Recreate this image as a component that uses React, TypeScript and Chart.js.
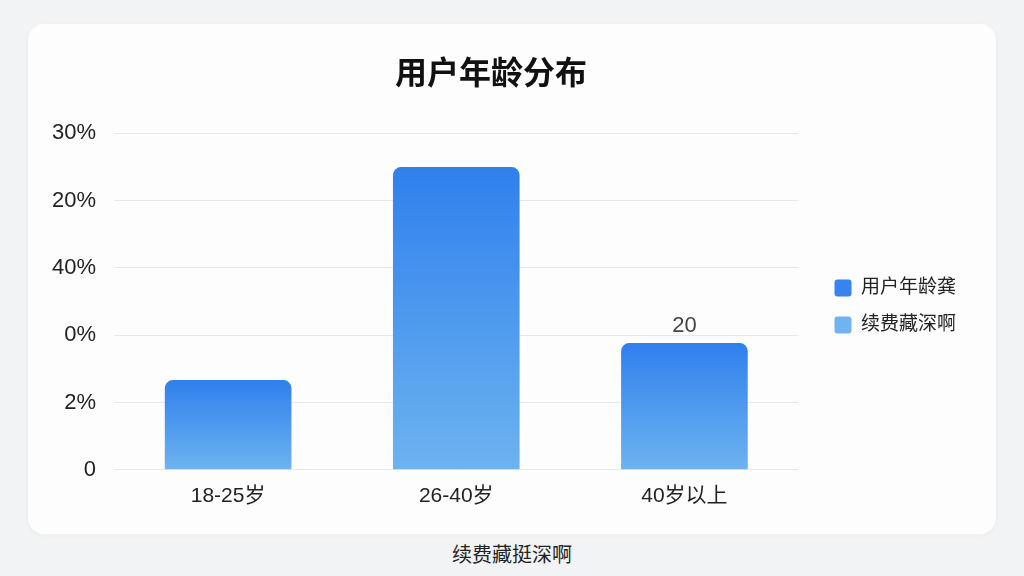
import React, { useEffect, useRef } from 'react';
import { Chart, registerables, ChartConfiguration, Plugin } from 'chart.js';

Chart.register(...registerables);

const FONT = '"Liberation Sans", "Noto Sans CJK SC", sans-serif';

const chartTitle = '用户年龄分布';
const caption = '续费藏挺深啊';
const categories = ['18-25岁', '26-40岁', '40岁以上'];
const shareValues = [8, 27, 11.3];
const valueLabels = ['', '', '20'];
const yTickLabels = ['0', '2%', '0%', '40%', '20%', '30%'];
const legendNames = ['用户年龄龚', '续费藏深啊'];
const legendColors = ['#3784ee', '#6fb3f1'];

// text drawn above the bars
const barLabelPlugin: Plugin<'bar'> = {
  id: 'barLabels',
  afterDatasetsDraw(chart) {
    const ctx = chart.ctx;
    const meta = chart.getDatasetMeta(0);
    ctx.save();
    ctx.fillStyle = '#444';
    ctx.font = `22px ${FONT}`;
    ctx.textAlign = 'center';
    ctx.textBaseline = 'bottom';
    meta.data.forEach((bar, i) => {
      const text = valueLabels[i];
      if (text) ctx.fillText(text, bar.x, bar.y - 6);
    });
    ctx.restore();
  },
};

// nudge the legend away from the plot
const legendShift: Plugin<'bar'> = {
  id: 'legendShift',
  afterLayout(chart) {
    const lg = chart.legend as any;
    if (!lg) return;
    lg.left += 18;
    lg.right += 18;
    lg.top += 21;
    lg.bottom += 21;
  },
};

const App: React.FC = () => {
  const canvasRef = useRef<HTMLCanvasElement>(null);
  const chartRef = useRef<Chart<'bar'> | null>(null);

  useEffect(() => {
    const ctx = canvasRef.current?.getContext('2d');
    if (!ctx) return;
    if (chartRef.current) chartRef.current.destroy();

    const config: ChartConfiguration<'bar'> = {
      type: 'bar',
      data: {
        labels: categories,
        datasets: [
          {
            label: legendNames[0],
            data: shareValues,
            backgroundColor: (c) => {
              const chart = c.chart;
              const area = chart.chartArea;
              if (!area || c.parsed == null) return legendColors[0];
              const top = chart.scales.y.getPixelForValue(c.parsed.y as number);
              const g = chart.ctx.createLinearGradient(0, top, 0, area.bottom);
              g.addColorStop(0, '#2f80ed');
              g.addColorStop(1, '#6db3f0');
              return g;
            },
            borderRadius: 8,
            borderSkipped: 'bottom',
            categoryPercentage: 1,
            barPercentage: 0.555,
          },
        ],
      },
      options: {
        animation: false,
        responsive: true,
        maintainAspectRatio: false,
        layout: { padding: { left: 6, right: 48, top: 32, bottom: 19 } },
        plugins: {
          title: {
            display: true,
            text: chartTitle,
            color: '#111',
            font: { family: FONT, size: 32, weight: 'bold' },
            padding: { top: 0, bottom: 39 },
          },
          legend: {
            position: 'right',
            labels: {
              color: '#222',
              font: { family: FONT, size: 19 },
              boxWidth: 17,
              boxHeight: 17,
              padding: 18,
              useBorderRadius: true,
              borderRadius: 3,
              generateLabels: () =>
                legendNames.map((name, i) => ({
                  text: name,
                  fillStyle: legendColors[i],
                  strokeStyle: legendColors[i],
                  lineWidth: 0,
                  hidden: false,
                  datasetIndex: 0,
                  borderRadius: 3,
                  fontColor: '#222',
                })),
            },
          },
          tooltip: { enabled: false },
        },
        scales: {
          x: {
            grid: { display: false },
            border: { display: false },
            ticks: { color: '#222', font: { family: FONT, size: 21 }, padding: 6 },
          },
          y: {
            min: 0,
            max: 30,
            border: { display: false },
            grid: { color: '#e8e8e8', drawTicks: false },
            ticks: {
              stepSize: 6,
              color: '#222',
              padding: 18,
              font: { family: FONT, size: 22 },
              callback: (_v, i) => yTickLabels[i],
            },
          },
        },
      },
      plugins: [barLabelPlugin, legendShift],
    };

    chartRef.current = new Chart(ctx, config);
    return () => {
      chartRef.current?.destroy();
      chartRef.current = null;
    };
  }, []);

  return (
    <div style={{ position: 'fixed', inset: 0, background: '#f2f3f5', fontFamily: FONT }}>
      <div
        style={{
          position: 'absolute',
          left: 28,
          top: 24,
          width: 968,
          height: 510,
          background: '#fdfdfd',
          borderRadius: 16,
          boxShadow: '0 1px 4px rgba(0,0,0,0.04)',
        }}
      >
        <canvas ref={canvasRef} />
      </div>
      <div
        style={{
          position: 'absolute',
          left: 0,
          width: 1024,
          top: 539,
          textAlign: 'center',
          fontSize: 20,
          color: '#222',
        }}
      >
        {caption}
      </div>
    </div>
  );
};

export default App;
